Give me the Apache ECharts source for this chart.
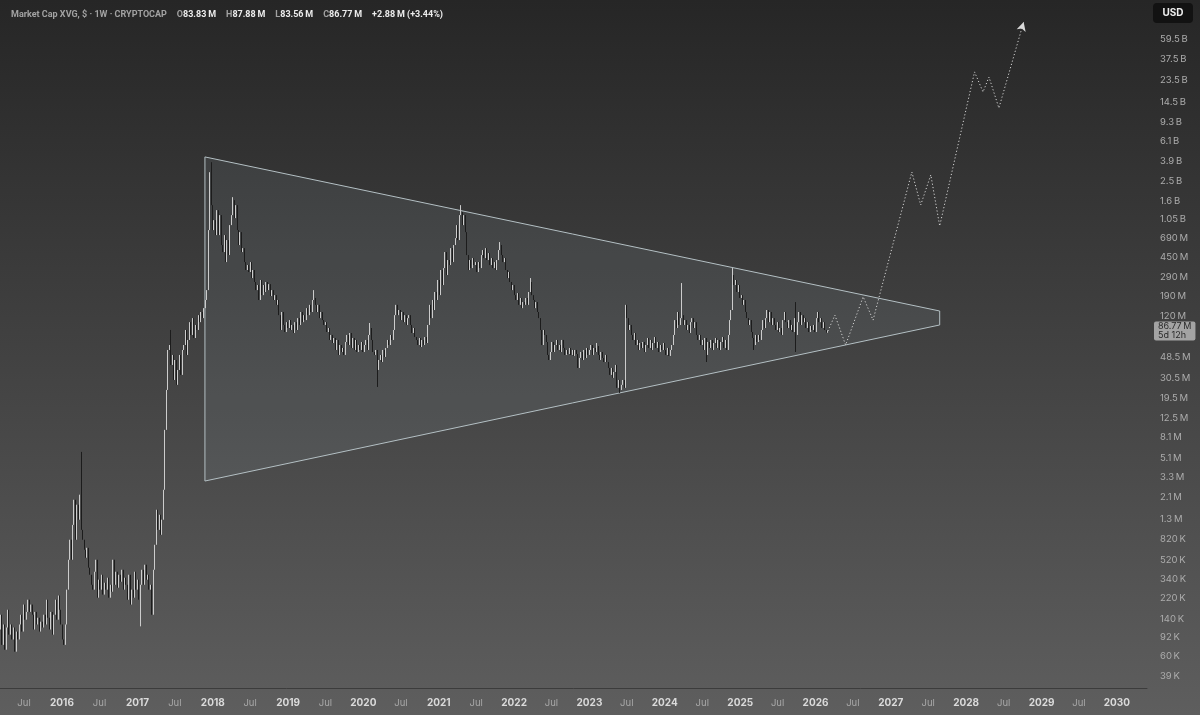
<!DOCTYPE html>
<html><head><meta charset="utf-8">
<script src="https://cdn.jsdelivr.net/npm/echarts@6/dist/echarts.min.js"></script>
<style>html,body{margin:0;padding:0;background:#3a3a3a}#c{width:1200px;height:715px}</style>
</head><body><div id="c"></div><script>
// ---------- DATA (market cap in millions of USD) ----------
const firstWeek = '2015-03-02';           // Monday of first weekly candle
// weekly closes, grouped by the year the block starts in
const w2015 = [0.110,0.153,0.078,0.123,0.070,0.115,0.171,0.098,0.123,0.088,0.115,0.067,0.105,0.088,0.123,0.153,0.105,0.192,0.137,0.163,0.214,0.163,0.192,0.153,0.110,0.163,0.123,0.143,0.105,0.131,0.115,0.153,0.123,0.214,0.143,0.110,0.163,0.098,0.153,0.214,0.137,0.235,0.171,0.123];
const w2016 = [0.088,0.078,0.123,0.268,0.523,0.818,0.523,1.14,2.00,0.818,1.79,1.28,2.24,1.02,0.818,0.654,0.547,0.683,0.438,0.374,0.299,0.268,0.400,0.523,0.224,0.335,0.268,0.374,0.240,0.313,0.268,0.350,0.224,0.299,0.256,0.523,0.299,0.400,0.280,0.374,0.320,0.418,0.268,0.350,0.299,0.214,0.374,0.192,0.268,0.224,0.400,0.268,0.335];
const w2017 = [0.214,0.299,0.418,0.299,0.468,0.335,0.374,0.268,0.299,0.153,0.418,0.731,1.60,1.02,1.43,0.914,1.28,2.50,9.54,23.3,56.9,63.6,40.7,50.9,29.1,45.5,26.1,36.4,50.9,32.6,56.9,63.6,89.0,50.9,71.2,106,79.6,116,74.4,99.5,89.0,124,106,133,116,145,174,217,830,2030,1450,830];
const w2018 = [1037,742,1297,742,1160,594,508,742,406,664,475,928,1160,1621,1085,1450,830,594,793,508,555,406,340,380,325,406,284,340,260,217,243,174,272,194,243,208,260,217,248,190,217,174,194,156,174,124,89.0,133,99.5,85.0,106,93.0];
const w2019 = [111,89.0,99.5,83.2,106,89.0,116,99.5,133,106,124,111,145,124,156,133,174,182,156,133,156,116,133,111,99.5,106,85.0,93.0,71.2,79.6,66.5,74.4,56.9,71.2,50.9,63.6,54.4,59.5,50.9,68.0,79.6,63.6,83.2,59.5,74.4,56.9,71.2,54.4,63.6,56.9,68.0,54.4];
const w2020 = [63.6,71.2,56.9,79.6,93.0,71.2,54.4,50.9,56.9,36.4,45.5,50.9,43.5,56.9,48.7,59.5,71.2,63.6,79.6,71.2,89.0,124,156,124,139,111,133,106,124,99.5,116,124,99.5,83.2,93.0,76.0,71.2,63.6,74.4,60.8,71.2,63.6,76.0,66.5,99.5,156,116,174,139,208,174,272];
const w2021 = [194,340,243,355,508,304,425,380,555,406,594,694,928,664,1160,1240,928,1160,793,475,340,425,355,444,380,406,325,406,355,475,531,444,555,425,496,380,444,355,406,340,425,531,594,475,406,444,340,284,325,260,217,243];
const w2022 = [194,174,203,156,182,145,166,156,182,156,208,260,194,174,145,166,133,116,89.0,63.6,89.0,79.6,68.0,50.9,45.5,54.4,68.0,54.4,63.6,71.2,56.9,63.6,54.4,71.2,59.5,50.9,56.9,52.0,59.5,50.9,56.9,49.8,56.9,52.0,38.1,47.6,54.4,45.5,56.9,47.6,59.5,50.9];
const w2023 = [56.9,63.6,50.9,59.5,54.4,62.2,50.9,45.5,54.4,47.6,43.5,50.9,43.5,38.1,32.6,38.1,30.5,34.8,40.7,24.4,29.1,23.3,26.1,29.1,24.4,156,116,89.0,99.5,79.6,71.2,83.2,63.6,71.2,56.9,66.5,59.5,68.0,54.4,63.6,74.4,59.5,71.2,56.9,66.5,76.0,59.5,68.0,54.4,63.6,56.9,66.5];
const w2024 = [56.9,50.9,59.5,49.8,56.9,63.6,79.6,111,93.0,133,99.5,116,124,99.5,111,89.0,99.5,83.2,106,116,93.0,106,79.6,71.2,79.6,63.6,71.2,56.9,74.4,50.9,68.0,59.5,71.2,56.9,66.5,74.4,59.5,71.2,56.9,68.0,76.0,59.5,71.2,56.9,79.6,111,139,304,243,272,208,243,182];
const w2025 = [194,156,174,133,116,99.5,111,85.0,74.4,63.6,79.6,68.0,79.6,71.2,89.0,111,93.0,116,139,106,133,99.5,116,99.5,89.0,106,85.0,93.0,79.6,111,133,106,93.0,111,89.0,99.5,85.0,116,79.6,106,133,99.5,124,106,116,93.0,106,85.0,97.3,89.0,99.5,85.0];
const w2026 = [116,133,106,116,93.0,106,89.0,83.83,86.77];
// notable wicks: [week, high, low]
const wicks = [
  ['2016-04-04', 5.83, null], ['2017-01-16', null, 0.118], ['2017-06-12', 89.0, null],
  ['2017-12-18', 3029, null], ['2017-12-25', 3786, null], ['2018-04-09', 1733, null],
  ['2019-05-06', 217, null], ['2020-02-03', 104, null], ['2020-03-09', null, 24.9],
  ['2021-04-19', 1450, null], ['2021-10-25', 635, null], ['2022-03-21', 284, null],
  ['2023-02-06', 66.5, null], ['2023-05-29', null, 21.8], ['2024-03-25', 254, null],
  ['2024-07-22', null, 43.5], ['2024-11-25', 355, null], ['2025-03-10', null, 56.9],
  ['2025-09-29', 166, 54.4], ['2026-03-02', 87.88, 83.56]
];
// projected path (dotted)
const projDates  = ['2026-03-02','2026-04-05','2026-05-27','2026-08-20','2026-10-07','2027-04-13','2027-05-26','2027-07-14','2027-08-26','2028-02-11','2028-03-23','2028-04-21','2028-06-08','2028-10-06'];
const projValues = [86.77,124,63.6,187,111,3040,1455,2850,910,28500,18200,25400,12700,87000];
// triangle (top-left, top-right, bottom-right, bottom-left)
const triDates  = ['2017-11-24','2027-08-26','2027-08-26','2017-11-24'];
const triValues = [4260,136,99.5,3.04];
// axis labels
const yTickLabels = ['59.5B','37.5B','23.5B','14.5B','9.3B','6.1B','3.9B','2.5B','1.6B','1.05B','690M','450M','290M','190M','120M','48.5M','30.5M','19.5M','12.5M','8.1M','5.1M','3.3M','2.1M','1.3M','820K','520K','340K','220K','140K','92K','60K','39K'];
const xTickDates = ['2015-07-01','2016-01-01','2016-07-01','2017-01-01','2017-07-01','2018-01-01','2018-07-01','2019-01-01','2019-07-01','2020-01-01','2020-07-01','2021-01-01','2021-07-01','2022-01-01','2022-07-01','2023-01-01','2023-07-01','2024-01-01','2024-07-01','2025-01-01','2025-07-01','2026-01-01','2026-07-01','2027-01-01','2027-07-01','2028-01-01','2028-07-01','2029-01-01','2029-07-01','2030-01-01'];
const header = {symbol: 'Market Cap XVG, $ · 1W · CRYPTOCAP', O: '83.83\u2009M', H: '87.88\u2009M', L: '83.56\u2009M', C: '86.77\u2009M', chg: '+2.88\u2009M (+3.44%)'};
const lastPrice = 86.77, lastCountdown = '5d 12h';

// ---------- BUILD ----------
const FONT = 'Inter, "Noto Sans", sans-serif';
const HFONT = 'Roboto, "Noto Sans", sans-serif';
const LG = v => Math.log10(v * 1e6);
const ts = s => Date.parse(s + 'T00:00:00Z');
const closes = [].concat(w2015,w2016,w2017,w2018,w2019,w2020,w2021,w2022,w2023,w2024,w2025,w2026);
const WEEK = 7 * 86400000, t0 = ts(firstWeek);
const wickMap = {}; wicks.forEach(w => { wickMap[w[0]] = w; });
const candles = closes.map((c, i) => {
  const t = t0 + i * WEEK;
  const o = i === 0 ? c : closes[i - 1];
  let hi = Math.max(o, c), lo = Math.min(o, c);
  const w = wickMap[new Date(t).toISOString().slice(0, 10)];
  if (w) { if (w[1] != null) hi = Math.max(hi, w[1]); if (w[2] != null) lo = Math.min(lo, w[2]); }
  return [t, LG(o), LG(c), LG(lo), LG(hi)];
});
const unit = {K: 1e-3, M: 1, B: 1e3};
const yVals = yTickLabels.map(s => LG(parseFloat(s) * unit[s.slice(-1)]));
const yLabelMap = {}; yVals.forEach((v, i) => { yLabelMap[v.toFixed(6)] = yTickLabels[i].replace(/([KMB])$/, '\u2009$1'); });
const proj = projDates.map((d, i) => {
  const p = [ts(d), LG(projValues[i])];
  return i === projDates.length - 1 ? {value: p, symbol: 'arrow', symbolSize: [7, 9], symbolRotate: -16} : {value: p, symbol: 'none'};
});
const tri = triDates.map((d, i) => [ts(d), LG(triValues[i])]);

const chart = echarts.init(document.getElementById('c'), null, {renderer: 'canvas'});
chart.setOption({
  animation: false,
  backgroundColor: {type: 'linear', x: 0, y: 0, x2: 0, y2: 1, colorStops: [
    {offset: 0, color: '#262626'}, {offset: 0.5, color: '#424242'}, {offset: 1, color: '#5e5e5e'}]},
  title: {
    left: 6, top: 1,
    text: '{g|' + header.symbol + '}  {g|O}{w|' + header.O + '}  {g|H}{w|' + header.H + '}  {g|L}{w|' + header.L + '}  {g|C}{w|' + header.C + '}  {w|' + header.chg + '}',
    textStyle: {rich: {
      g: {color: '#a2a2a2', fontSize: 9, fontFamily: HFONT},
      w: {color: '#ececec', fontSize: 9, fontFamily: HFONT}
    }}
  },
  grid: {left: 0, right: 53, top: 0, bottom: 27},
  xAxis: {
    type: 'value',
    min: Date.UTC(2015, 2, 6, 12), max: Date.UTC(2030, 4, 27),
    splitLine: {show: false},
    axisLine: {show: true, lineStyle: {color: '#3c3c3c', width: 1}},
    axisTick: {show: false},
    axisLabel: {
      customValues: xTickDates.map(ts),
      margin: 10, hideOverlap: false,
      formatter: v => { const d = new Date(v); return d.getUTCMonth() === 0 ? '{y|' + d.getUTCFullYear() + '}' : '{m|Jul}'; },
      rich: {
        y: {color: '#dadada', fontSize: 10, fontWeight: 'bold', fontFamily: FONT},
        m: {color: '#a8a8a8', fontSize: 9.5, fontFamily: FONT}
      }
    }
  },
  yAxis: {
    type: 'value', position: 'right',
    min: 4.4734, max: 11.153, scale: true,
    splitLine: {show: false},
    axisLine: {show: false}, axisTick: {show: false},
    axisLabel: {
      customValues: yVals, margin: 13,
      color: '#acacac', fontSize: 9.5, fontFamily: FONT,
      formatter: v => yLabelMap[v.toFixed(6)] || ''
    }
  },
  series: [
    {
      type: 'custom', z: 1, silent: true,
      data: [0],
      renderItem: (params, api) => ({
        type: 'polygon',
        shape: {points: tri.map(p => api.coord(p))},
        style: {fill: 'rgba(190,205,215,0.085)', stroke: '#b4c0c4', lineWidth: 1}
      })
    },
    {
      type: 'candlestick', z: 3,
      encode: {x: 0, y: [1, 2, 3, 4]},
      data: candles,
      barWidth: 1.3,
      itemStyle: {color: '#cccccc', color0: '#1c1c1c', borderColor: '#cccccc', borderColor0: '#1c1c1c', borderWidth: 1},
      markLine: {
        silent: true, symbol: 'none',
        lineStyle: {color: 'rgba(0,0,0,0)', width: 0},
        data: [{yAxis: LG(lastPrice)}],
        label: {
          show: true, position: 'end', distance: 7,
          formatter: lastPrice.toFixed(2) + '\u2009M\n' + lastCountdown,
          backgroundColor: '#a3a3a3', color: '#2a2a2a', fontSize: 9, lineHeight: 9.5,
          fontFamily: FONT, padding: [0, 4, 0, 4], borderRadius: 2
        }
      }
    },
    {
      type: 'line', z: 4, silent: true,
      data: proj, showSymbol: true,
      itemStyle: {color: '#d8d8d8'},
      lineStyle: {color: '#d4d4d4', width: 1, type: [1.2, 2.2]}
    }
  ],
  graphic: [
    {type: 'group', left: 1153, top: 3, children: [
      {type: 'rect', shape: {width: 40, height: 20, r: 4}, style: {fill: '#121212'}},
      {type: 'text', x: 20, y: 10, style: {text: 'USD', fill: '#f0f0f0', font: 'bold 10px ' + FONT, align: 'center', verticalAlign: 'middle'}}
    ]}
  ]
});
</script></body></html>
